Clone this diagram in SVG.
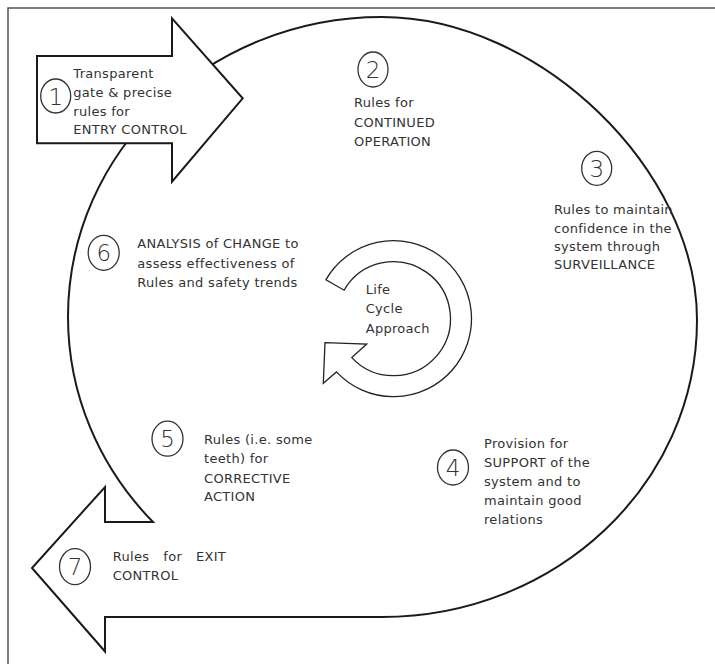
<svg xmlns="http://www.w3.org/2000/svg" width="715" height="664" viewBox="0 0 715 664">
<style>
.t{font-family:"DejaVu Sans",Verdana,sans-serif;font-size:13px;letter-spacing:0.3px;fill:#333}
.n{font-family:"DejaVu Sans",Verdana,sans-serif;font-size:23px;font-weight:200;fill:#333;text-anchor:middle}
.c{fill:#fff;stroke:#333;stroke-width:1.3}
.big{fill:#fff;stroke:#1a1a1a;stroke-width:2;stroke-linejoin:miter}
</style>
<rect width="715" height="664" fill="#fff"/>
<path d="M8,664 V8 H715" fill="none" stroke="#555" stroke-width="1.5"/>
<g id="connectors">
<path id="cycle-ring" class="big" d="M153,522 A314.5 300 0 0 1 68,317 C68,151.3 208.3,17 382,17 C539.5,17 697,170 697,320 C697,484 556,617 382,617 L105,617 L105,651.5 L32,568 L105,487 L105,522 Z"/>
<path id="entry-arrow" class="big" d="M37,56 L172,56 L172,18.3 L242.7,98.3 L172,181.7 L172,143.3 L37,143.3 Z"/>
<path id="life-cycle-arrow" fill="#fff" stroke="#222" stroke-width="1.3" d="M325.95,279.7 A78 78 0 1 1 336.45,371.9 L323.3,383.3 L325,342.7 L366.7,344 L351.8,357.6 A57 57 0 1 0 344.1,290.2 Z"/>
</g>
<g id="node1">
<ellipse class="c" cx="55.7" cy="96" rx="15" ry="17"/>
<text class="n" x="55.7" y="104.5">1</text>
<text class="t" x="73.3" y="77.5">Transparent</text>
<text class="t" x="73.3" y="96.5">gate &amp; precise</text>
<text class="t" x="73.3" y="115.5">rules for</text>
<text class="t" x="73.3" y="134">ENTRY CONTROL</text>
</g>
<g id="node2">
<ellipse class="c" cx="373" cy="69.5" rx="15" ry="17.5"/>
<text class="n" x="373" y="78">2</text>
<text class="t" x="354" y="107.3">Rules for</text>
<text class="t" x="354" y="127">CONTINUED</text>
<text class="t" x="354" y="146">OPERATION</text>
</g>
<g id="node3">
<ellipse class="c" cx="596.7" cy="168.3" rx="15" ry="17"/>
<text class="n" x="596.7" y="176.8">3</text>
<text class="t" x="554" y="214">Rules to maintain</text>
<text class="t" x="554" y="232.5">confidence in the</text>
<text class="t" x="554" y="250.5">system through</text>
<text class="t" x="554" y="268.5">SURVEILLANCE</text>
</g>
<g id="node4">
<ellipse class="c" cx="453" cy="467.5" rx="15.5" ry="17.5"/>
<text class="n" x="453" y="476">4</text>
<text class="t" x="484" y="448.3">Provision for</text>
<text class="t" x="484" y="467.3">SUPPORT of the</text>
<text class="t" x="484" y="486">system and to</text>
<text class="t" x="484" y="505">maintain good</text>
<text class="t" x="484" y="524">relations</text>
</g>
<g id="node5">
<ellipse class="c" cx="167.5" cy="438.7" rx="15.5" ry="17.5"/>
<text class="n" x="167.5" y="447.2">5</text>
<text class="t" x="204" y="444">Rules (i.e. some</text>
<text class="t" x="204" y="463.3">teeth) for</text>
<text class="t" x="204" y="482.7">CORRECTIVE</text>
<text class="t" x="204" y="501">ACTION</text>
</g>
<g id="node6">
<ellipse class="c" cx="103.7" cy="252.8" rx="15.5" ry="17.5"/>
<text class="n" x="103.7" y="261.3">6</text>
<text class="t" x="137.3" y="248.3">ANALYSIS of CHANGE to</text>
<text class="t" x="137.3" y="267.7">assess effectiveness of</text>
<text class="t" x="137.3" y="286.7">Rules and safety trends</text>
</g>
<g id="node7">
<ellipse class="c" cx="75" cy="566.7" rx="15.5" ry="18"/>
<text class="n" x="75" y="575.2">7</text>
<text class="t" y="560.7"><tspan x="112.7">Rules</tspan><tspan x="163.3">for</tspan><tspan x="196">EXIT</tspan></text>
<text class="t" x="112.7" y="580">CONTROL</text>
</g>
<g id="center">
<text class="t" x="365.7" y="294.3">Life</text>
<text class="t" x="365.7" y="313.3">Cycle</text>
<text class="t" x="365.7" y="332.7">Approach</text>
</g>
</svg>
